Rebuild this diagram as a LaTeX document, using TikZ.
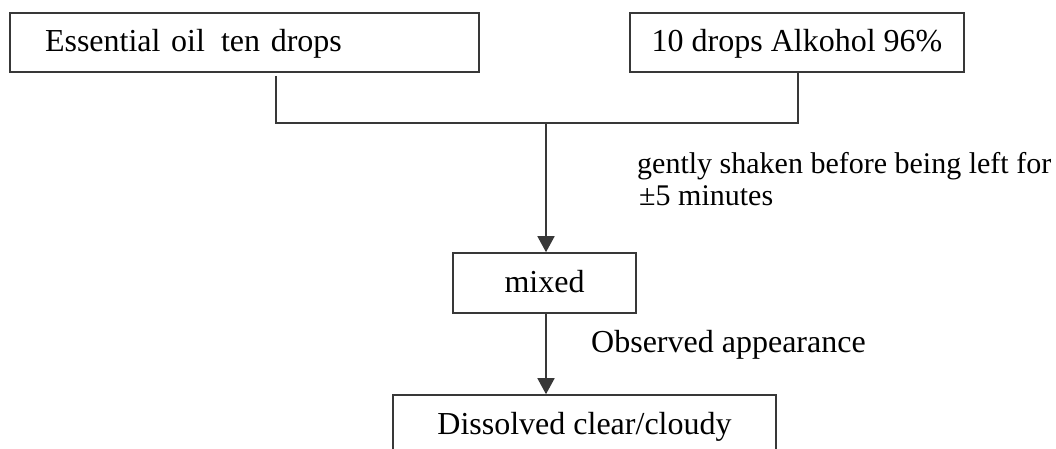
\documentclass[tikz,border=0pt]{standalone}
\usepackage{fontspec}
\setmainfont{Liberation Serif}
\usetikzlibrary{arrows.meta}
\begin{document}
\begin{tikzpicture}[x=1pt,y=-1pt,
  every node/.style={font=\fontsize{32}{38}\selectfont},
  box/.style={draw=black!78, line width=1.6pt, rectangle, inner sep=0pt,
    text height=24pt, text depth=5pt},
  link/.style={draw=black!78, line width=1.6pt},
  flow/.style={link, -{Triangle[width=17pt,length=16pt]}},
  note/.style={anchor=base west, inner sep=0pt, font=\fontsize{30}{36}\selectfont}]
\useasboundingbox (0,0) rectangle (1056,449);

% source boxes
\node[box, minimum width=469pt, minimum height=59pt, text width=399pt,
      align=left] (oil) at (244.5,42.5) {Essential oil\, ten drops};
\node[box, minimum width=334pt, minimum height=59pt] (alc) at (797,42.5)
      {10 drops Alkohol 96\%};

% process boxes
\node[box, minimum width=183pt, minimum height=60pt] (mix) at (544.5,283) {mixed};
\node[box, minimum width=383pt, minimum height=59pt] (res) at (584.5,424.5)
      {Dissolved clear/cloudy};

% joining bracket
\coordinate (jl) at (276,123);
\coordinate (jr) at (798,123);
\coordinate (jm) at (546,123);
\draw[link, shorten <=3pt] (jl |- oil.south) -- (jl) -- (jr) -- (jr |- alc.south);

% arrows
\draw[flow] (jm) -- (jm |- mix.north);
\draw[flow] (jm |- mix.south) -- (jm |- res.north);

% step notes
\node[note] (n1) at (637,173) {gently shaken before being left for};
\node[note] (n2) at (639,205) {±5 minutes};
\node[note, font=\fontsize{32}{38}\selectfont] (n3) at (591,352) {Observed appearance};
\end{tikzpicture}
\end{document}
